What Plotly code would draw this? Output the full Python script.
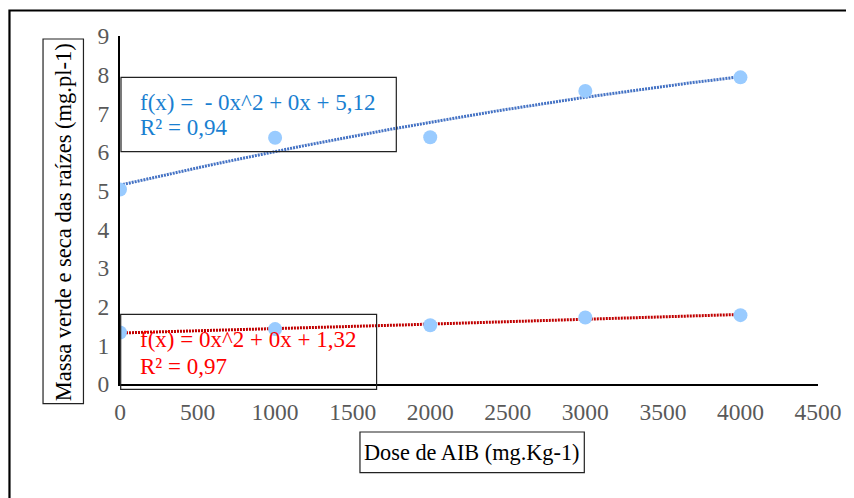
import numpy as np
import plotly.graph_objects as go

# Data
doses = [0, 1000, 2000, 3000, 4000]
massa_verde = [5.03, 6.37, 6.38, 7.58, 7.93]
massa_seca = [1.33, 1.42, 1.52, 1.72, 1.78]
eq_verde = ["f(x) =  - 0x^2 + 0x + 5,12", "R² = 0,94"]
eq_seca = ["f(x) = 0x^2 + 0x + 1,32", "R² = 0,97"]
x_ticks = [0, 500, 1000, 1500, 2000, 2500, 3000, 3500, 4000, 4500]
y_ticks = [0, 1, 2, 3, 4, 5, 6, 7, 8, 9]
x_title = "Dose de AIB (mg.Kg-1)"
y_title = "Massa verde e seca das raízes (mg.pl-1)"

FONT = "Liberation Serif, Times New Roman, serif"
OFF = 8  # page body margin
W, H = 854 - OFF, 498 - OFF
L, T = 120 - OFF, 36 - OFF
R = 33
B = H - (384 - OFF)
PW, PH = W - L - R, H - T - B


def px(x):  # reference-page pixel -> paper
    return (x - OFF - L) / PW


def py(y):
    return (H - B - (y - OFF)) / PH


xx = np.linspace(0, 4000, 200)
fig = go.Figure()
for ys, col in [(massa_verde, "#4472C4"), (massa_seca, "#C00000")]:
    c = np.polyfit(doses, ys, 2)
    fig.add_trace(go.Scatter(x=xx, y=np.polyval(c, xx), mode="lines",
                             line=dict(color=col, width=3, dash="2px,1px"),
                             hoverinfo="skip", showlegend=False))
for ys in [massa_verde, massa_seca]:
    fig.add_trace(go.Scatter(x=doses, y=ys, mode="markers",
                             marker=dict(color="#99CBFF", size=14),
                             showlegend=False))

shapes = [
    # outer border
    dict(type="path", xref="paper", yref="paper",
         path=f"M {px(9)} {py(505)} L {px(9)} {py(10.5)} L {px(860)} {py(10.5)}",
         line=dict(color="black", width=2.2)),
    # equation boxes
    dict(type="rect", xref="paper", yref="paper", x0=px(121), x1=px(397.5),
         y0=py(151.7), y1=py(77.3), line=dict(color="#222", width=1.2)),
    dict(type="rect", xref="paper", yref="paper", x0=px(120.7), x1=px(377.7),
         y0=py(389.3), y1=py(314.3), line=dict(color="#222", width=1.2)),
    # axis title boxes
    dict(type="rect", xref="paper", yref="paper", x0=px(42.7), x1=px(83.3),
         y0=py(403.7), y1=py(39), line=dict(color="#222", width=1.2)),
    dict(type="rect", xref="paper", yref="paper", x0=px(361), x1=px(586.3),
         y0=py(472.7), y1=py(432), line=dict(color="#222", width=1.2)),
]

annotations = []
for lines, col, ys in [(eq_verde, "#1A7FD1", (102.3, 127.5)), (eq_seca, "#FF0000", (339, 366.7))]:
    for t, yy in zip(lines, ys):
        annotations.append(dict(text=t, xref="paper", yref="paper", x=px(138), y=py(yy),
                                xanchor="left", yanchor="middle", showarrow=False,
                                font=dict(family=FONT, size=23, color=col)))
annotations.append(dict(text=y_title, xref="paper", yref="paper", x=px(63), y=py(222),
                        textangle=-90, xanchor="center", yanchor="middle", showarrow=False,
                        font=dict(family=FONT, size=22.5, color="black")))
annotations.append(dict(text=x_title, xref="paper", yref="paper", x=px(473.7), y=py(452.3),
                        xanchor="center", yanchor="middle", showarrow=False,
                        font=dict(family=FONT, size=22.3, color="black")))

fig.update_layout(
    width=W, height=H, margin=dict(l=L, r=R, t=T, b=B),
    paper_bgcolor="white", plot_bgcolor="white",
    shapes=shapes, annotations=annotations,
    xaxis=dict(range=[0, 4500], tickvals=x_ticks, showgrid=False, zeroline=False,
               showline=True, linecolor="black", linewidth=2,
               ticks="outside", ticklen=6, tickcolor="rgba(0,0,0,0)",
               tickfont=dict(family=FONT, size=23.5, color="#595959")),
    yaxis=dict(range=[0, 9], tickvals=y_ticks, showgrid=False, zeroline=False,
               showline=True, linecolor="black", linewidth=2,
               ticks="outside", ticklen=4, tickcolor="rgba(0,0,0,0)",
               tickfont=dict(family=FONT, size=23.5, color="#595959")),
)

fig.write_html("out.html")
